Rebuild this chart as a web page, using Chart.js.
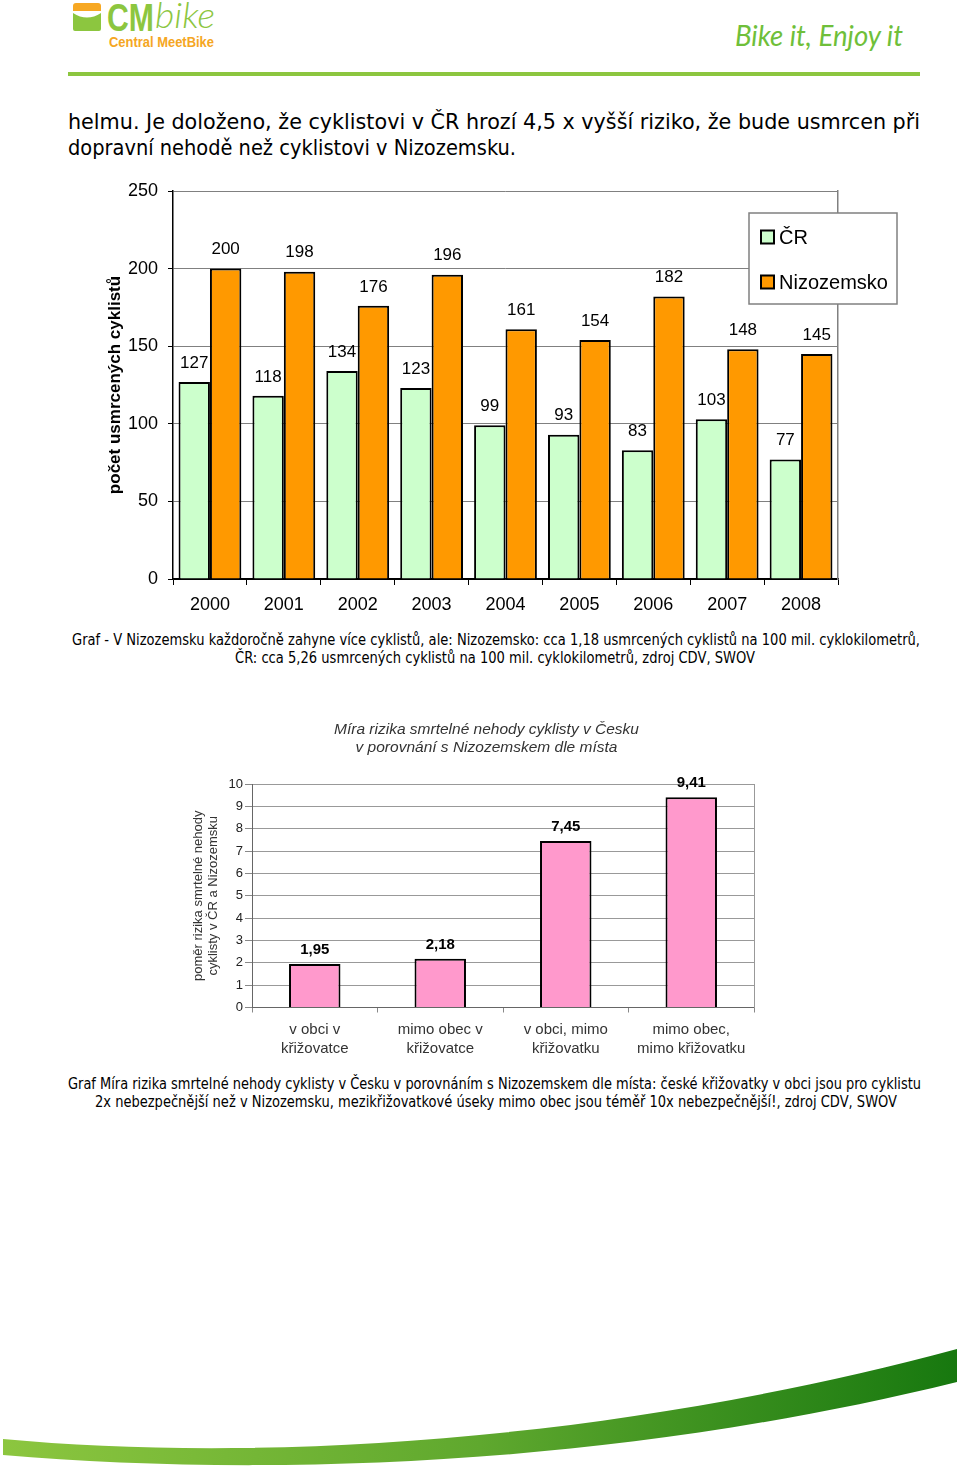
<!DOCTYPE html>
<html>
<head>
<meta charset="utf-8">
<script src="https://cdn.jsdelivr.net/npm/chart.js@4.4.1/dist/chart.umd.min.js"></script>
<style>
  html, body { margin:0; padding:0; background:#fff; }
  #page { position:relative; width:960px; height:1472px; overflow:hidden; background:#fff; }
  #deco { position:absolute; left:0; top:0; }
  canvas { position:absolute; }
  #c1 { left:80px; top:170px; }
  #c2 { left:180px; top:710px; }
</style>
</head>
<body>
<div id="page">
<svg id="deco" width="960" height="1472" viewBox="0 0 960 1472" xmlns="http://www.w3.org/2000/svg">
  <defs>
    <linearGradient id="sw" x1="0" y1="0" x2="1" y2="0">
      <stop offset="0" stop-color="#8cc63f"/>
      <stop offset="0.5" stop-color="#5fa82e"/>
      <stop offset="1" stop-color="#17780f"/>
    </linearGradient>
  </defs>
  <!-- logo -->
  <path d="M73,11 L73,6 Q73,3 76,3 L98,3 Q101,3 101,6 L101,11 Z" fill="#f7a823"/>
  <path d="M73,13 Q87,22 101,13 L101,29 Q101,31 99,31 L75,31 Q73,31 73,29 Z" fill="#8cc63f"/>
  <text x="107" y="31" font-family="Liberation Sans" font-weight="bold" font-size="39" textLength="47" lengthAdjust="spacingAndGlyphs" fill="#8cc63f">CM</text>
  <text x="155" y="28" font-family="Lato" font-style="italic" font-weight="300" font-size="36" textLength="60" lengthAdjust="spacingAndGlyphs" fill="#8cc63f">bike</text>
  <text x="109" y="46.5" font-family="Liberation Sans" font-weight="bold" font-size="14.5" textLength="105" lengthAdjust="spacingAndGlyphs" fill="#f5a623">Central MeetBike</text>
  <text x="735" y="46" font-family="Lato" font-style="italic" font-weight="normal" font-size="28" textLength="168" lengthAdjust="spacingAndGlyphs" fill="#6fbf3a">Bike it, Enjoy it</text>
  <rect x="68" y="72" width="852" height="4" fill="#8cc63f"/>
  <!-- body text -->
  <text x="68" y="129" font-family="DejaVu Sans" font-size="21" textLength="852" lengthAdjust="spacingAndGlyphs" fill="#000">helmu. Je doloženo, že cyklistovi v ČR hrozí 4,5 x vyšší riziko, že bude usmrcen při</text>
  <text x="68" y="155" font-family="DejaVu Sans" font-size="21" textLength="448" lengthAdjust="spacingAndGlyphs" fill="#000">dopravní nehodě než cyklistovi v Nizozemsku.</text>
  <!-- caption 1 -->
  <text x="72" y="645" font-family="DejaVu Sans" font-size="15" textLength="848" lengthAdjust="spacingAndGlyphs" fill="#000">Graf  - V Nizozemsku každoročně zahyne více cyklistů, ale: Nizozemsko: cca 1,18 usmrcených cyklistů na 100 mil. cyklokilometrů,</text>
  <text x="235" y="663" font-family="DejaVu Sans" font-size="15" textLength="520" lengthAdjust="spacingAndGlyphs" fill="#000">ČR: cca 5,26 usmrcených cyklistů na 100 mil. cyklokilometrů, zdroj CDV, SWOV</text>
  <!-- caption 2 -->
  <text x="68" y="1089" font-family="DejaVu Sans" font-size="15" textLength="853" lengthAdjust="spacingAndGlyphs" fill="#000">Graf Míra rizika smrtelné nehody cyklisty v Česku v porovnáním s Nizozemskem dle místa: české křižovatky v obci jsou pro cyklistu</text>
  <text x="95" y="1107" font-family="DejaVu Sans" font-size="15" textLength="802" lengthAdjust="spacingAndGlyphs" fill="#000">2x nebezpečnější než v Nizozemsku, mezikřižovatkové úseky mimo obec jsou téměř 10x nebezpečnější!, zdroj CDV, SWOV</text>
  <!-- bottom swoosh -->
  <path d="M3,1439 C250,1462 600,1445 957,1349 L957,1382 C600,1470 250,1476 3,1455 Z" fill="url(#sw)"/>
</svg>
<canvas id="c1" width="840" height="460"></canvas>
<canvas id="c2" width="613" height="360"></canvas>
</div>
<script>
// ---------- data ----------
const years = ['2000','2001','2002','2003','2004','2005','2006','2007','2008'];
const crDeaths = [127, 118, 134, 123, 99, 93, 83, 103, 77];
const nlDeaths = [200, 198, 176, 196, 161, 154, 182, 148, 145];
const seriesNames = ['ČR', 'Nizozemsko'];
const yAxisTitle1 = 'počet usmrcených cyklistů';

const locations = [['v obci v','křižovatce'], ['mimo obec v','křižovatce'], ['v obci, mimo','křižovatku'], ['mimo obec,','mimo křižovatku']];
const riskRatios = [1.95, 2.18, 7.45, 9.41];
const chart2Title = ['Míra rizika smrtelné nehody cyklisty v Česku', 'v porovnání s Nizozemskem dle místa'];
const yAxisTitle2 = ['poměr rizika smrtelné nehody', 'cyklisty v ČR a Nizozemsku'];

// ---------- styling ----------
const FONT = "'Liberation Sans', Arial, sans-serif";
Chart.defaults.font.family = FONT;
Chart.defaults.color = '#000';

const barLabels = {
  id: 'barLabels',
  afterDatasetsDraw(chart, args, opts) {
    const ctx = chart.ctx;
    ctx.save();
    ctx.font = opts.font;
    ctx.fillStyle = opts.color || '#000';
    ctx.textAlign = 'center';
    ctx.textBaseline = 'middle';
    chart.data.datasets.forEach((ds, i) => {
      chart.getDatasetMeta(i).data.forEach((el, j) => {
        ctx.fillText(opts.format(ds.data[j]), el.x, el.y - opts.offset);
      });
    });
    ctx.restore();
  }
};

const boxLegend = {
  id: 'boxLegend',
  afterDraw(chart, args, opts) {
    if (!opts.enabled) return;
    const ctx = chart.ctx, a = chart.chartArea;
    const x = a.right - 89, y = a.top + 22, w = 148, h = 91;
    ctx.save();
    ctx.fillStyle = '#fff';
    ctx.fillRect(x, y, w, h);
    ctx.strokeStyle = '#808080';
    ctx.lineWidth = 1.5;
    ctx.strokeRect(x, y, w, h);
    chart.data.datasets.forEach((ds, i) => {
      const cy = y + 24 + i * 45;
      ctx.fillStyle = ds.backgroundColor;
      ctx.fillRect(x + 12, cy - 6.5, 13, 13);
      ctx.strokeStyle = '#000';
      ctx.lineWidth = 2;
      ctx.strokeRect(x + 12, cy - 6.5, 13, 13);
      ctx.fillStyle = '#000';
      ctx.font = '20px ' + FONT;
      ctx.textAlign = 'left';
      ctx.textBaseline = 'middle';
      ctx.fillText(ds.label, x + 30, cy + 1);
    });
    ctx.restore();
  }
};

// ---------- chart 1 ----------
new Chart(document.getElementById('c1'), {
  type: 'bar',
  data: {
    labels: years,
    datasets: [
      { label: seriesNames[0], data: crDeaths, backgroundColor: '#ccffcc', borderColor: '#000', borderWidth: 2, categoryPercentage: 0.85, barPercentage: 1 },
      { label: seriesNames[1], data: nlDeaths, backgroundColor: '#ff9900', borderColor: '#000', borderWidth: 2, categoryPercentage: 0.85, barPercentage: 1 }
    ]
  },
  options: {
    responsive: false,
    animation: false,
    layout: { padding: { top: 21, left: 0, right: 0, bottom: 0 } },
    plugins: {
      legend: { display: false },
      tooltip: { enabled: false },
      title: { display: false },
      barLabels: { font: '17px ' + FONT, offset: 19, format: v => String(v) },
      boxLegend: { enabled: true }
    },
    scales: {
      x: {
        grid: { display: true, drawOnChartArea: false, tickLength: 6, color: '#000', lineWidth: 1 },
        border: { color: '#000', width: 1.5 },
        ticks: { font: { size: 18 }, color: '#000', padding: 9, maxRotation: 0, autoSkip: false },
        afterFit: s => { s.height = 51; }
      },
      y: {
        min: 0, max: 250,
        ticks: { stepSize: 50, font: { size: 18 }, color: '#000', padding: 10 },
        grid: { color: c => (c.tick && c.tick.value === 0) ? '#000' : '#808080', tickColor: '#000', tickLength: 5, lineWidth: 1 },
        border: { color: '#000', width: 1.5 },
        title: { display: true, text: yAxisTitle1, font: { size: 17, weight: 'bold' }, color: '#000', padding: { top: 25, bottom: 0 } },
        afterFit: s => { s.width = 93; }
      },
      y2: {
        position: 'right', min: 0, max: 250,
        ticks: { display: false },
        grid: { display: false },
        border: { display: true, color: '#808080', width: 1.5 },
        afterFit: s => { s.width = 82; }
      }
    }
  },
  plugins: [barLabels, boxLegend]
});

// ---------- chart 2 ----------
new Chart(document.getElementById('c2'), {
  type: 'bar',
  data: {
    labels: locations,
    datasets: [
      { label: 'poměr', data: riskRatios, backgroundColor: '#ff99cc', borderColor: '#000', borderWidth: 2, barPercentage: 0.41, categoryPercentage: 1 }
    ]
  },
  options: {
    responsive: false,
    animation: false,
    layout: { padding: 0 },
    plugins: {
      legend: { display: false },
      tooltip: { enabled: false },
      title: {
        display: true, text: chart2Title, color: '#333',
        font: { size: 15.5, style: 'italic', weight: 'normal', lineHeight: '18px' },
        padding: { top: 11, bottom: 27 }
      },
      barLabels: { font: 'bold 15px ' + FONT, offset: 14, format: v => v.toFixed(2).replace('.', ',') },
      boxLegend: { enabled: false }
    },
    scales: {
      x: {
        grid: { display: true, drawOnChartArea: false, tickLength: 5, color: '#888' },
        border: { color: '#666', width: 1 },
        ticks: { font: { size: 15, lineHeight: '19px' }, color: '#333', padding: 8, maxRotation: 0, autoSkip: false },
        afterFit: s => { s.height = 62.5; }
      },
      y: {
        min: 0, max: 10,
        ticks: { stepSize: 1, font: { size: 13 }, color: '#222', padding: 2 },
        grid: { color: '#999', tickColor: '#888', tickLength: 7, lineWidth: 1 },
        border: { color: '#666', width: 1 },
        title: { display: true, text: yAxisTitle2, font: { size: 13, lineHeight: '15px' }, color: '#333', padding: { top: 10.5, bottom: 0 } },
        afterFit: s => { s.width = 72; }
      },
      y2: {
        position: 'right', min: 0, max: 10,
        ticks: { display: false },
        grid: { display: false },
        border: { display: true, color: '#999', width: 1 },
        afterFit: s => { s.width = 39; }
      }
    }
  },
  plugins: [barLabels, boxLegend]
});
</script>
</body>
</html>
